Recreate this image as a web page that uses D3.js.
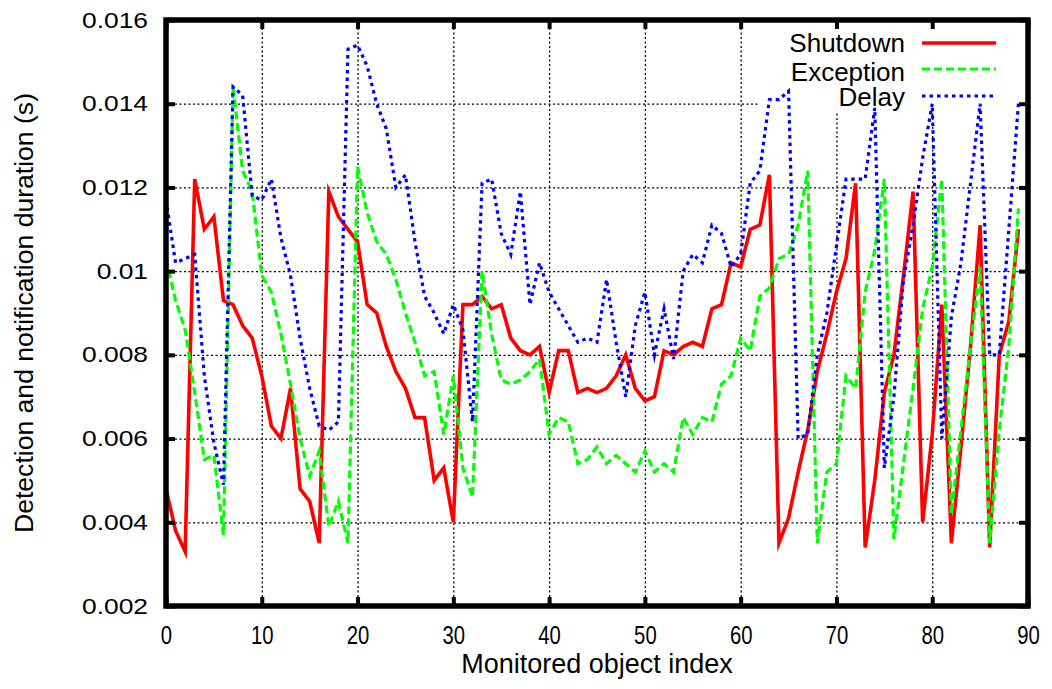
<!DOCTYPE html>
<html>
<head>
<meta charset="utf-8">
<script src="https://cdn.jsdelivr.net/npm/d3@7"></script>
<style>
    html, body { margin: 0; padding: 0; background: #fff; }
    svg { display: block; font-family: 'Liberation Sans', Arial, sans-serif; }
</style>
</head>
<body>
<svg id="chart" width="1052" height="689"></svg>
<script>
// values, one per monitored object (index 0..89)
const seriesNames = ['Shutdown', 'Exception', 'Delay'];
const seriesColors = ['#ff0000', '#00ff00', '#0000ff'];

const shutdown = [
    0.0048, 0.0038, 0.0033, 0.0122, 0.0110, 0.0113, 0.0093, 0.0092, 0.0087, 0.0084,
    0.0075, 0.0063, 0.0060, 0.0072, 0.0048, 0.0045, 0.0035, 0.0119, 0.0113, 0.0110,
    0.0107, 0.0092, 0.0090, 0.0082, 0.0076, 0.0072, 0.0065, 0.0065, 0.0050, 0.0053,
    0.0040, 0.0092, 0.0092, 0.0094, 0.0091, 0.0092, 0.0084, 0.0081, 0.0080, 0.0082,
    0.0071, 0.0081, 0.0081, 0.0071, 0.0072, 0.0071, 0.0072, 0.0075, 0.0080, 0.0072,
    0.0069, 0.0070, 0.0081, 0.0080, 0.0082, 0.0083, 0.0082, 0.0091, 0.0092, 0.0102,
    0.0101, 0.0110, 0.0111, 0.0123, 0.0035, 0.0041, 0.0052, 0.0062, 0.0076, 0.0085,
    0.0095, 0.0103, 0.0121, 0.0034, 0.0050, 0.0071, 0.0080, 0.0099, 0.0119, 0.0040,
    0.0061, 0.0092, 0.0035, 0.0058, 0.0082, 0.0111, 0.0034, 0.0080, 0.0088, 0.0110
];

const exception = [
    0.0103, 0.0093, 0.0086, 0.0071, 0.0055, 0.0056, 0.0037, 0.0144, 0.0124, 0.0119,
    0.0099, 0.0095, 0.0085, 0.0073, 0.0060, 0.0051, 0.0057, 0.0039, 0.0045, 0.0035,
    0.0125, 0.0114, 0.0107, 0.0104, 0.0098, 0.0090, 0.0083, 0.0075, 0.0076, 0.0061,
    0.0075, 0.0053, 0.0046, 0.0100, 0.0085, 0.0074, 0.0073, 0.0074, 0.0076, 0.0079,
    0.0061, 0.0065, 0.0064, 0.0054, 0.0055, 0.0058, 0.0054, 0.0056, 0.0054, 0.0052,
    0.0057, 0.0052, 0.0054, 0.0052, 0.0065, 0.0061, 0.0065, 0.0064, 0.0073, 0.0075,
    0.0084, 0.0081, 0.0094, 0.0096, 0.0103, 0.0104, 0.0111, 0.0124, 0.0035, 0.0052,
    0.0054, 0.0075, 0.0072, 0.0095, 0.0105, 0.0122, 0.0036, 0.0054, 0.0072, 0.0091,
    0.0101, 0.0122, 0.0042, 0.0062, 0.0082, 0.0101, 0.0035, 0.0062, 0.0082, 0.0115
];

const delay = [
    0.0117, 0.0102, 0.0103, 0.0104, 0.0075, 0.0059, 0.0049, 0.0144, 0.0142, 0.0118,
    0.0117, 0.0122, 0.0108, 0.0099, 0.0084, 0.0072, 0.0063, 0.0062, 0.0064, 0.0153,
    0.0154, 0.0149, 0.0140, 0.0134, 0.0120, 0.0123, 0.0107, 0.0094, 0.0090, 0.0085,
    0.0092, 0.0086, 0.0064, 0.0121, 0.0122, 0.0109, 0.0104, 0.0119, 0.0092, 0.0102,
    0.0095, 0.0091, 0.0087, 0.0083, 0.0084, 0.0083, 0.0098, 0.0083, 0.0070, 0.0087,
    0.0095, 0.0080, 0.0091, 0.0079, 0.0100, 0.0104, 0.0102, 0.0111, 0.0109, 0.0101,
    0.0104, 0.0121, 0.0124, 0.0141, 0.0141, 0.0143, 0.0060, 0.0061, 0.0080, 0.0090,
    0.0106, 0.0122, 0.0122, 0.0122, 0.0139, 0.0053, 0.0070, 0.0098, 0.0111, 0.0127,
    0.0140, 0.0060, 0.0089, 0.0102, 0.0121, 0.0140, 0.0080, 0.0080, 0.0110, 0.0140
];

const xTicks = [0, 10, 20, 30, 40, 50, 60, 70, 80, 90];
const yTicks = [0.002, 0.004, 0.006, 0.008, 0.01, 0.012, 0.014, 0.016];
const yTickLabels = ['0.002', '0.004', '0.006', '0.008', '0.01', '0.012', '0.014', '0.016'];

function drawChart() {
    let box = { left: 166, right: 1028, top: 20, bottom: 606 };
    let svg = d3.select('#chart');
    svg.html('');

    let x = d3.scaleLinear().domain([0, 90]).range([box.left, box.right]);
    let y = d3.scaleLinear().domain([0.002, 0.016]).range([box.bottom, box.top]);
    let h = box.bottom - box.top,
        w = box.right - box.left;

    // dotted grid
    let grid = svg.append('g').attr('class', 'grid');
    grid.append('g')
        .attr('transform', `translate(0, ${box.bottom})`)
        .call(d3.axisBottom(x).tickValues(xTicks.slice(1, -1)).tickSize(-h).tickFormat(''));
    grid.append('g')
        .attr('transform', `translate(${box.left}, 0)`)
        .call(d3.axisLeft(y).tickValues(yTicks.slice(1, -1)).tickSize(-w).tickFormat(''));
    grid.selectAll('.domain').remove();
    grid.selectAll('line')
        .attr('stroke', '#000')
        .attr('stroke-width', 1.3)
        .attr('stroke-dasharray', '2,2.5');

    // key area is blanked out
    svg.append('rect')
        .attr('x', 760)
        .attr('y', box.top)
        .attr('width', box.right - 760)
        .attr('height', 91)
        .attr('fill', '#fff');

    // series
    let line = d3.line()
        .x((d, i) => x(i))
        .y((d) => y(d));
    let dashes = [null, '8,4', '3.5,4'];
    let widths = [3.6, 3.2, 3.2];
    [shutdown, exception, delay].forEach((s, k) => {
        svg.append('path')
            .datum(s)
            .attr('d', line)
            .attr('fill', 'none')
            .attr('stroke', seriesColors[k])
            .attr('stroke-width', widths[k])
            .attr('stroke-dasharray', dashes[k])
            .attr('stroke-linejoin', 'miter')
            .attr('stroke-miterlimit', 6);
    });

    // axes with thick inward ticks
    let bottomAxis = svg.append('g')
        .attr('transform', `translate(0, ${box.bottom})`)
        .call(d3.axisBottom(x).tickValues(xTicks).tickSizeInner(-9).tickSizeOuter(0).tickPadding(20).tickFormat(d3.format('d')));
    bottomAxis.selectAll('text')
        .attr('font-size', 26)
        .attr('fill', '#000')
        .attr('transform', 'scale(0.78,1)');

    let topAxis = svg.append('g')
        .attr('transform', `translate(0, ${box.top})`)
        .call(d3.axisTop(x).tickValues(xTicks).tickSizeInner(-9).tickSizeOuter(0).tickFormat(''));

    let leftAxis = svg.append('g')
        .attr('transform', `translate(${box.left}, 0)`)
        .call(d3.axisLeft(y).tickValues(yTicks).tickSizeInner(-9).tickSizeOuter(0)
            .tickFormat((d, i) => yTickLabels[i]));
    leftAxis.selectAll('text')
        .attr('font-size', 22)
        .attr('fill', '#000')
        .attr('x', 0)
        .attr('transform', 'translate(-18,0) scale(1.2,1)');

    let rightAxis = svg.append('g')
        .attr('transform', `translate(${box.right}, 0)`)
        .call(d3.axisRight(y).tickValues(yTicks).tickSizeInner(-9).tickSizeOuter(0).tickFormat(''));

    [bottomAxis, topAxis, leftAxis, rightAxis].forEach((a) => {
        a.select('.domain').remove();
        a.selectAll('.tick line').attr('stroke', '#000').attr('stroke-width', 4);
    });

    // thick border
    svg.append('rect')
        .attr('x', box.left)
        .attr('y', box.top)
        .attr('width', w)
        .attr('height', h)
        .attr('fill', 'none')
        .attr('stroke', '#000')
        .attr('stroke-width', 5.5);

    // titles
    svg.append('text')
        .attr('x', (box.left + box.right) / 2)
        .attr('y', 673)
        .attr('text-anchor', 'middle')
        .attr('font-size', 27)
        .text('Monitored object index');
    svg.append('text')
        .attr('transform', `translate(33, ${(box.top + box.bottom) / 2}) rotate(-90)`)
        .attr('text-anchor', 'middle')
        .attr('font-size', 26)
        .attr('textLength', 440)
        .attr('lengthAdjust', 'spacingAndGlyphs')
        .text('Detection and notification duration (s)');

    // key
    let keyTextY = [52, 81, 106],
        keyLineY = [43, 69, 96];
    let key = svg.append('g').attr('class', 'key');
    seriesNames.forEach((name, k) => {
        key.append('text')
            .attr('x', 905)
            .attr('y', keyTextY[k])
            .attr('text-anchor', 'end')
            .attr('font-size', 26)
            .text(name);
        key.append('line')
            .attr('x1', 922)
            .attr('x2', 996)
            .attr('y1', keyLineY[k])
            .attr('y2', keyLineY[k])
            .attr('stroke', seriesColors[k])
            .attr('stroke-width', widths[k])
            .attr('stroke-dasharray', dashes[k]);
    });
}

drawChart();
</script>
</body>
</html>
